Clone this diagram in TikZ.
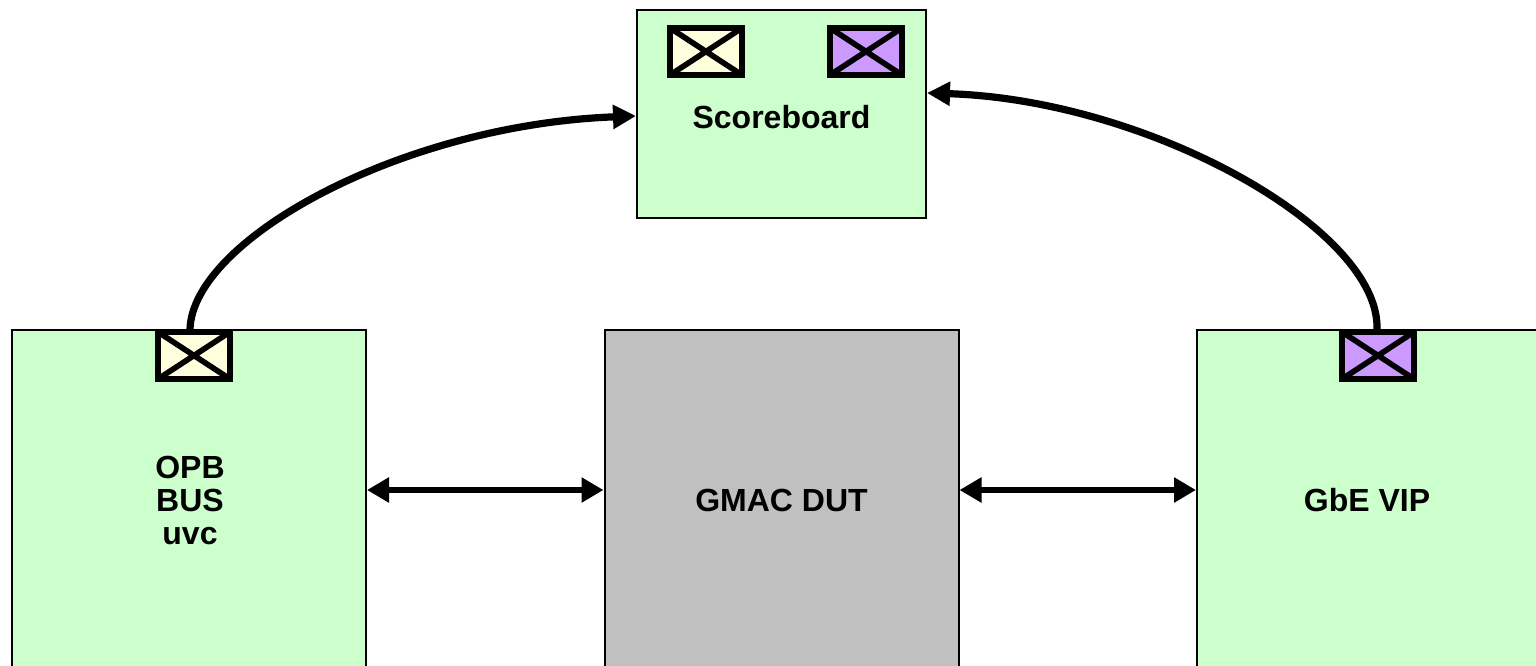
\documentclass[tikz,border=0pt]{standalone}
\usepackage{fontspec}
\setmainfont{Liberation Sans}
\usetikzlibrary{arrows.meta}
\definecolor{boxgreen}{HTML}{CCFFCC}
\definecolor{portyellow}{HTML}{FFFFDD}
\definecolor{portpurple}{HTML}{CC99FF}
\definecolor{dutgray}{HTML}{C0C0C0}
\tikzset{
  blk/.style={draw=black, line width=1pt, fill=boxgreen, minimum width=177pt, minimum height=185pt, inner sep=0pt},
  dut/.style={blk, fill=dutgray},
  port/.style={draw=black, line width=3pt, minimum width=36pt, minimum height=23.5pt, inner sep=0pt,
    path picture={\draw[line width=2.8pt] (path picture bounding box.south west) -- (path picture bounding box.north east)
      (path picture bounding box.north west) -- (path picture bounding box.south east);}},
  lbl/.style={font=\bfseries\fontsize{16pt}{16.5pt}\selectfont, align=center},
  conn/.style={line width=3.6pt, -{Triangle[length=11.5pt,width=11.5pt]}},
  biconn/.style={line width=3pt, {Triangle[length=11pt,width=12pt]}-{Triangle[length=11pt,width=12pt]}},
}
\begin{document}
\begin{tikzpicture}[x=0.5pt,y=-0.5pt]
\useasboundingbox (0,0) rectangle (1536,665);
\clip (0,0) rectangle (1536,665);
\node[blk, minimum width=144.5pt, minimum height=104pt] (sb) at (781.5,114) {};
\node[lbl] (sbt) at (781.5,117) {Scoreboard};
\node[port, fill=portyellow] (sbp1) at (706,51.5) {};
\node[port, fill=portpurple] (sbp2) at (866,51.5) {};
\node[blk] (opb) at (189,515) {};
\node[dut] (gmac) at (781.5,515) {};
\node[blk] (gbe) at (1374,515) {};
\node[lbl] (opbt) at (190,500) {OPB\\BUS\\uvc};
\node[lbl] (gmact) at (781.5,500) {GMAC DUT};
\node[lbl] (gbet) at (1367,500) {GbE VIP};
\node[port, fill=portyellow] (opbp) at (194,355.5) {};
\node[port, fill=portpurple] (gbep) at (1378,355.5) {};
\coordinate (hy) at (0,490);
\coordinate (sl) at (0,116);
\coordinate (sr) at (0,93);
\draw[biconn] (opb.east |- hy) -- (gmac.west |- hy);
\draw[biconn] (gmac.east |- hy) -- (gbe.west |- hy);
\draw[conn] ([xshift=-2pt]opbp.north) .. controls (193,240) and (400,125) .. (sb.west |- sl);
\draw[conn] ([xshift=-0.5pt]gbep.north) .. controls (1380,230) and (1150,100) .. (sb.east |- sr);
\end{tikzpicture}
\end{document}
